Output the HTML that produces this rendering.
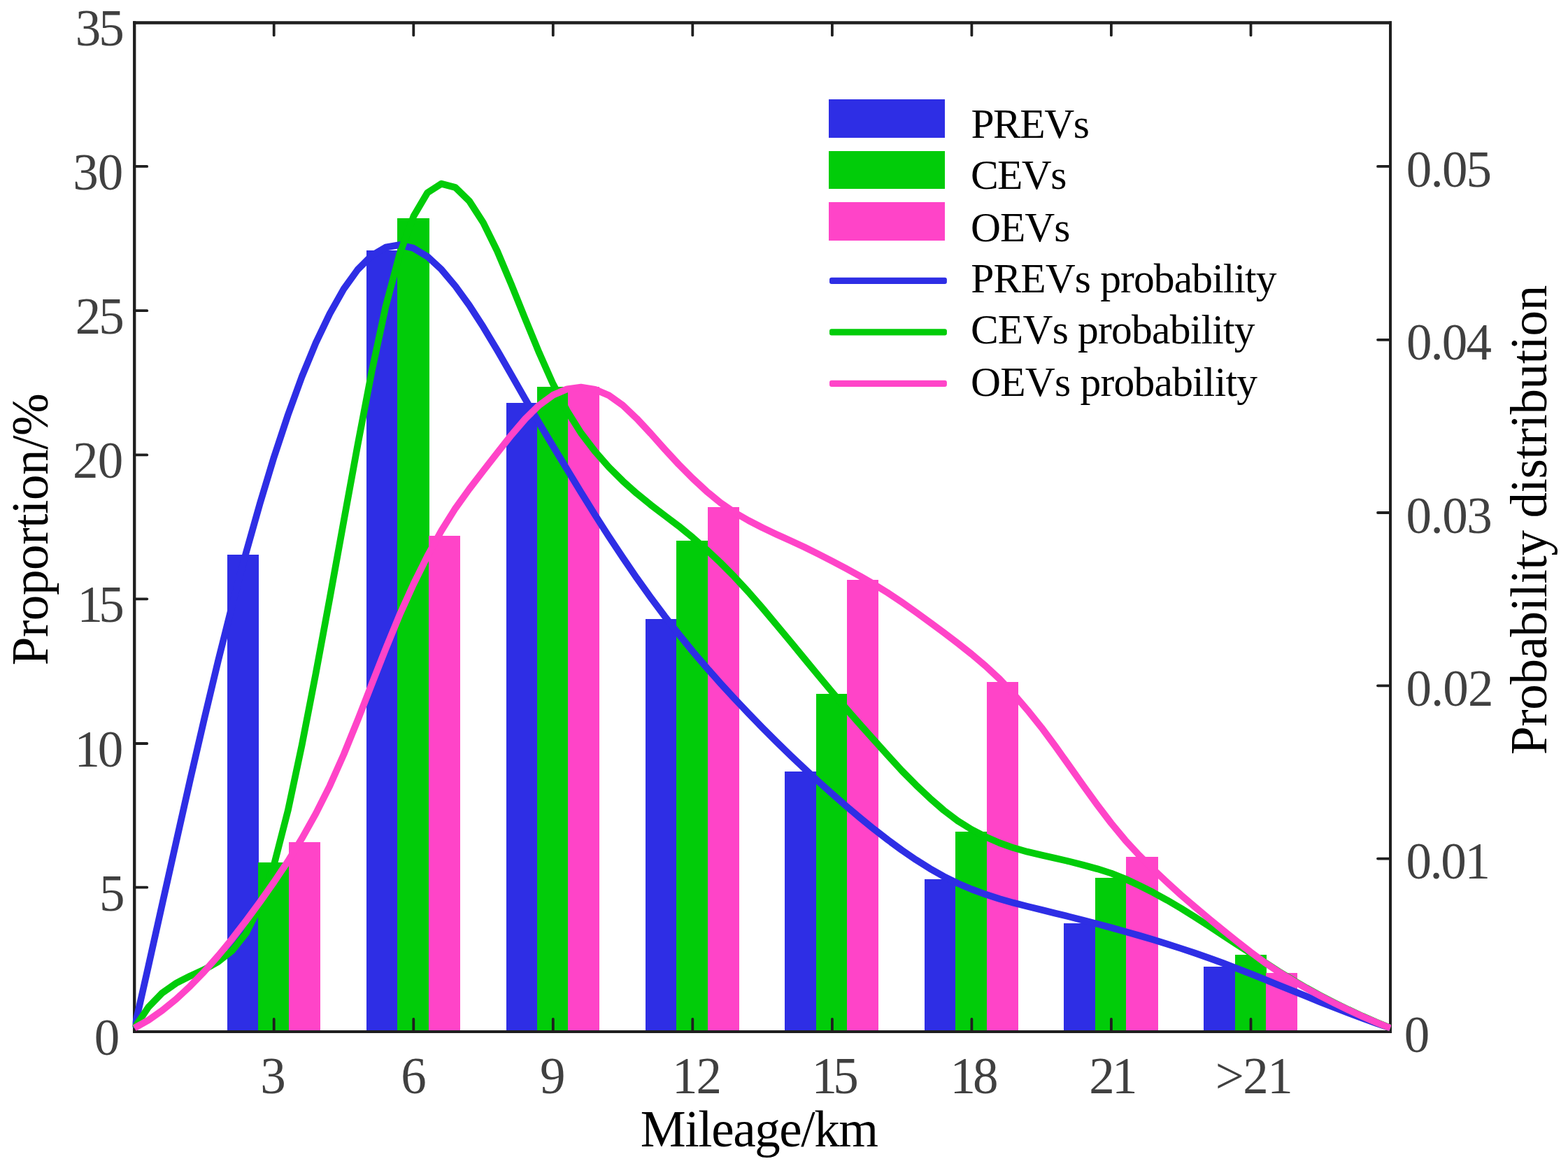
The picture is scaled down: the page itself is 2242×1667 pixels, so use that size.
<!DOCTYPE html>
<html lang="en"><head><meta charset="utf-8"><title>Mileage distribution</title>
<style>
html,body{margin:0;padding:0;background:#fff;}
body{width:2242px;height:1667px;overflow:hidden;}
svg{display:block;}
text{font-family:"Liberation Serif","DejaVu Serif",serif;}
.tk{font-size:73px;fill:#404040;}
.lb{font-size:73px;fill:#000;}
.lg{font-size:59.5px;fill:#000;}
</style></head><body>
<svg xmlns="http://www.w3.org/2000/svg" width="2242" height="1667" viewBox="0 0 2242 1667">
<rect x="0" y="0" width="2242" height="1667" fill="#fff"/>
<g fill="none" stroke="#1f1f1f" stroke-width="4.0" stroke-linecap="square">
<path d="M192.2 32.4 H1988.0"/>
<path d="M192.2 32.4 V1474.9"/>
</g>
<g shape-rendering="crispEdges">
<rect x="325.0" y="793.0" width="45.0" height="681.9" fill="#2E2EE5"/>
<rect x="369.0" y="1233.0" width="45.0" height="241.9" fill="#01CC09"/>
<rect x="413.0" y="1204.0" width="45.0" height="270.9" fill="#FF44C8"/>
<rect x="524.0" y="358.0" width="45.0" height="1116.9" fill="#2E2EE5"/>
<rect x="568.0" y="312.0" width="46.0" height="1162.9" fill="#01CC09"/>
<rect x="613.0" y="766.0" width="45.0" height="708.9" fill="#FF44C8"/>
<rect x="724.0" y="576.0" width="45.0" height="898.9" fill="#2E2EE5"/>
<rect x="768.0" y="553.0" width="45.0" height="921.9" fill="#01CC09"/>
<rect x="812.0" y="553.0" width="45.0" height="921.9" fill="#FF44C8"/>
<rect x="923.0" y="885.0" width="45.0" height="589.9" fill="#2E2EE5"/>
<rect x="967.0" y="773.0" width="46.0" height="701.9" fill="#01CC09"/>
<rect x="1012.0" y="725.0" width="45.0" height="749.9" fill="#FF44C8"/>
<rect x="1122.0" y="1103.0" width="46.0" height="371.9" fill="#2E2EE5"/>
<rect x="1167.0" y="992.0" width="45.0" height="482.9" fill="#01CC09"/>
<rect x="1211.0" y="829.0" width="45.0" height="645.9" fill="#FF44C8"/>
<rect x="1322.0" y="1257.0" width="45.0" height="217.9" fill="#2E2EE5"/>
<rect x="1366.0" y="1189.0" width="46.0" height="285.9" fill="#01CC09"/>
<rect x="1411.0" y="975.0" width="45.0" height="499.9" fill="#FF44C8"/>
<rect x="1521.0" y="1320.0" width="46.0" height="154.9" fill="#2E2EE5"/>
<rect x="1566.0" y="1255.0" width="45.0" height="219.9" fill="#01CC09"/>
<rect x="1610.0" y="1225.0" width="46.0" height="249.9" fill="#FF44C8"/>
<rect x="1721.0" y="1382.0" width="46.0" height="92.9" fill="#2E2EE5"/>
<rect x="1766.0" y="1365.0" width="45.0" height="109.9" fill="#01CC09"/>
<rect x="1810.0" y="1391.0" width="45.0" height="83.9" fill="#FF44C8"/>
</g>
<g fill="none" stroke="#1f1f1f" stroke-width="3.8" stroke-linecap="round">
<path d="M391.7 1474.9 v-18.0"/>
<path d="M391.7 32.4 v18.0"/>
<path d="M591.3 1474.9 v-18.0"/>
<path d="M591.3 32.4 v18.0"/>
<path d="M790.8 1474.9 v-18.0"/>
<path d="M790.8 32.4 v18.0"/>
<path d="M990.3 1474.9 v-18.0"/>
<path d="M990.3 32.4 v18.0"/>
<path d="M1189.9 1474.9 v-18.0"/>
<path d="M1189.9 32.4 v18.0"/>
<path d="M1389.4 1474.9 v-18.0"/>
<path d="M1389.4 32.4 v18.0"/>
<path d="M1588.9 1474.9 v-18.0"/>
<path d="M1588.9 32.4 v18.0"/>
<path d="M1788.5 1474.9 v-18.0"/>
<path d="M1788.5 32.4 v18.0"/>
<path d="M192.2 1268.7 h18.0"/>
<path d="M192.2 1063.0 h18.0"/>
<path d="M192.2 856.3 h18.0"/>
<path d="M192.2 650.4 h18.0"/>
<path d="M192.2 444.2 h18.0"/>
<path d="M192.2 237.9 h18.0"/>
<path d="M1988.0 1227.6 h-18.0"/>
<path d="M1988.0 980.3 h-18.0"/>
<path d="M1988.0 733.0 h-18.0"/>
<path d="M1988.0 485.8 h-18.0"/>
<path d="M1988.0 237.9 h-18.0"/>
</g>
<g fill="none" stroke="#1f1f1f" stroke-width="4.0" stroke-linecap="square">
<path d="M192.2 1474.9 H1988.0"/>
<path d="M1988.0 32.4 V1474.9"/>
<path d="M192.2 32.4 V1474.9"/>
<path d="M192.2 32.4 H1988.0"/>
</g>
<defs><clipPath id="cp"><rect x="189.6" y="32.4" width="1799.4" height="1441.4"/></clipPath></defs>
<g fill="none" stroke-width="9.7" stroke-linejoin="round" stroke-linecap="butt" clip-path="url(#cp)">
<path d="M192.2 1469.7L212.2 1381.3L232.1 1292.0L252.1 1202.7L272.0 1114.4L292.0 1028.1L311.9 944.9L331.9 865.4L351.8 790.2L371.8 719.5L391.7 653.7L411.7 593.4L431.6 538.7L451.6 490.2L471.6 448.3L491.5 413.2L511.4 385.5L531.4 365.5L551.4 353.6L571.3 350.1L591.3 354.8L611.2 366.8L631.2 385.3L651.1 409.0L671.1 436.6L691.0 467.4L711.0 500.7L730.9 535.3L750.9 570.4L770.9 604.7L790.8 638.1L810.8 671.0L830.7 703.8L850.7 736.0L870.6 767.2L890.6 797.3L910.5 826.4L930.5 854.3L950.4 881.0L970.4 906.6L990.3 931.1L1010.3 954.5L1030.2 977.0L1050.2 998.8L1070.2 1019.8L1090.1 1040.3L1110.0 1060.2L1130.0 1079.7L1150.0 1098.6L1169.9 1117.0L1189.9 1134.9L1209.8 1152.3L1229.8 1169.2L1249.7 1185.4L1269.7 1200.9L1289.6 1215.5L1309.6 1229.2L1329.5 1241.7L1349.5 1253.0L1369.5 1262.9L1389.4 1271.4L1409.3 1278.7L1429.3 1285.1L1449.3 1290.8L1469.2 1295.9L1489.2 1300.8L1509.1 1305.7L1529.1 1310.6L1549.0 1315.7L1569.0 1320.9L1588.9 1326.2L1608.9 1331.8L1628.8 1337.5L1648.8 1343.4L1668.8 1349.6L1688.7 1356.0L1708.7 1362.7L1728.6 1369.6L1748.6 1376.9L1768.5 1384.5L1788.5 1392.3L1808.4 1400.3L1828.4 1408.4L1848.3 1416.5L1868.3 1424.6L1888.2 1432.7L1908.2 1440.6L1928.1 1448.3L1948.1 1455.8L1968.0 1462.9L1988.0 1469.7" stroke="#2E2EE5"/>
<path d="M192.2 1469.7L212.2 1439.9L232.1 1419.4L252.1 1405.5L272.0 1395.4L292.0 1386.2L311.9 1375.0L331.9 1359.1L351.8 1334.3L371.8 1294.9L391.7 1236.8L411.7 1158.9L431.6 1065.6L451.6 962.6L471.6 854.9L491.5 745.2L511.4 636.3L531.4 531.9L551.4 438.5L571.3 363.7L591.3 309.3L611.2 275.5L631.2 262.7L651.1 268.0L671.1 287.5L691.0 318.4L711.0 359.0L730.9 406.2L750.9 455.7L770.9 504.3L790.8 549.1L810.8 587.3L830.7 619.0L850.7 645.3L870.6 667.9L890.6 687.8L910.5 705.6L930.5 721.8L950.4 737.0L970.4 752.1L990.3 768.3L1010.3 785.8L1030.2 804.5L1050.2 824.7L1070.2 846.4L1090.1 869.3L1110.0 893.0L1130.0 917.0L1150.0 941.3L1169.9 965.5L1189.9 989.5L1209.8 1013.0L1229.8 1035.8L1249.7 1058.0L1269.7 1080.3L1289.6 1102.0L1309.6 1122.2L1329.5 1141.1L1349.5 1158.5L1369.5 1173.6L1389.4 1186.0L1409.3 1196.4L1429.3 1205.1L1449.3 1212.2L1469.2 1217.8L1489.2 1222.4L1509.1 1226.9L1529.1 1231.6L1549.0 1236.7L1569.0 1242.2L1588.9 1248.5L1608.9 1256.5L1628.8 1265.8L1648.8 1275.9L1668.8 1286.9L1688.7 1298.7L1708.7 1311.2L1728.6 1324.0L1748.6 1337.2L1768.5 1350.2L1788.5 1362.8L1808.4 1375.9L1828.4 1388.8L1848.3 1401.0L1868.3 1412.6L1888.2 1423.4L1908.2 1433.7L1928.1 1443.5L1948.1 1452.8L1968.0 1461.5L1988.0 1469.7" stroke="#01CC09"/>
<path d="M192.2 1469.7L212.2 1458.5L232.1 1444.6L252.1 1428.3L272.0 1409.7L292.0 1389.1L311.9 1366.5L331.9 1342.3L351.8 1316.5L371.8 1289.4L391.7 1261.1L411.7 1231.2L431.6 1198.8L451.6 1163.2L471.6 1123.3L491.5 1078.6L511.4 1029.7L531.4 978.6L551.4 927.7L571.3 879.3L591.3 835.0L611.2 794.8L631.2 758.6L651.1 726.8L671.1 699.0L691.0 673.1L711.0 647.4L730.9 622.3L750.9 599.0L770.9 579.3L790.8 564.8L810.8 556.3L830.7 553.6L850.7 556.7L870.6 565.3L890.6 579.5L910.5 598.4L930.5 619.9L950.4 642.3L970.4 663.9L990.3 683.9L1010.3 702.4L1030.2 718.8L1050.2 732.6L1070.2 744.1L1090.1 754.4L1110.0 763.8L1130.0 772.8L1150.0 782.1L1169.9 792.0L1189.9 802.2L1209.8 812.7L1229.8 823.7L1249.7 835.3L1269.7 847.7L1289.6 861.1L1309.6 875.1L1329.5 889.6L1349.5 904.4L1369.5 919.6L1389.4 935.4L1409.3 952.2L1429.3 970.9L1449.3 992.1L1469.2 1015.3L1489.2 1040.2L1509.1 1067.0L1529.1 1095.1L1549.0 1123.3L1569.0 1150.8L1588.9 1177.0L1608.9 1201.2L1628.8 1222.8L1648.8 1242.7L1668.8 1261.5L1688.7 1279.6L1708.7 1296.8L1728.6 1313.4L1748.6 1329.7L1768.5 1345.7L1788.5 1361.4L1808.4 1376.2L1828.4 1389.5L1848.3 1401.7L1868.3 1413.2L1888.2 1424.0L1908.2 1434.2L1928.1 1443.9L1948.1 1453.1L1968.0 1461.7L1988.0 1469.7" stroke="#FF44C8"/>
</g>
<text class="tk" x="134.86" y="1507.80">0</text>
<text class="tk" x="141.90" y="1301.60">5</text>
<text class="tk" x="106.51" y="1095.90" letter-spacing="-3.36">10</text>
<text class="tk" x="110.62" y="889.20" letter-spacing="-5.89">15</text>
<text class="tk" x="103.97" y="683.30" letter-spacing="-0.78">20</text>
<text class="tk" x="107.63" y="477.10" letter-spacing="-2.90">25</text>
<text class="tk" x="104.33" y="270.80" letter-spacing="-1.06">30</text>
<text class="tk" x="107.72" y="65.30" letter-spacing="-3.08">35</text>
<text class="tk" x="2007.76" y="1503.50">0</text>
<text class="tk" x="2010.40" y="1256.20" letter-spacing="-2.42">0.01</text>
<text class="tk" x="2010.42" y="1008.90" letter-spacing="-0.90">0.02</text>
<text class="tk" x="2010.39" y="761.60" letter-spacing="-1.42">0.03</text>
<text class="tk" x="2010.98" y="514.40" letter-spacing="-1.93">0.04</text>
<text class="tk" x="2010.82" y="266.50" letter-spacing="-1.82">0.05</text>
<text class="tk" x="372.37" y="1563.30">3</text>
<text class="tk" x="573.16" y="1563.30">6</text>
<text class="tk" x="772.01" y="1563.30">9</text>
<text class="tk" x="961.05" y="1563.30" letter-spacing="-2.03">12</text>
<text class="tk" x="1160.55" y="1563.30" letter-spacing="-5.79">15</text>
<text class="tk" x="1358.39" y="1563.30" letter-spacing="-3.94">18</text>
<text class="tk" x="1557.37" y="1563.30" letter-spacing="-3.77">21</text>
<text class="tk" x="1737.65" y="1563.30" letter-spacing="-1.57">&gt;21</text>
<text class="lb" x="915.86" y="1639.00" letter-spacing="-1.39">Mileage/km</text>
<g transform="translate(68.4 949.1) rotate(-90)">
<text class="lb" x="-2.20" y="0.00" letter-spacing="-0.38">Proportion/%</text>
</g>
<g transform="translate(2211.1 1076.8) rotate(-90)">
<text class="lb" x="-2.10" y="0.00" letter-spacing="-0.36">Probability distribution</text>
</g>
<rect x="1184.9" y="142.2" width="166.1" height="54.6" fill="#2E2EE5" shape-rendering="crispEdges"/>
<text class="lg" x="1388.41" y="197.20" letter-spacing="-1.41">PREVs</text>
<rect x="1184.9" y="215.9" width="166.1" height="54.1" fill="#01CC09" shape-rendering="crispEdges"/>
<text class="lg" x="1388.06" y="269.60" letter-spacing="-1.62">CEVs</text>
<rect x="1184.9" y="289.1" width="166.1" height="54.8" fill="#FF44C8" shape-rendering="crispEdges"/>
<text class="lg" x="1388.06" y="344.60" letter-spacing="-1.05">OEVs</text>
<rect x="1186.0" y="396.8" width="167.9" height="9.2" rx="3" ry="3" fill="#2E2EE5"/>
<text class="lg" x="1388.24" y="418.10" letter-spacing="-0.87">PREVs probability</text>
<rect x="1186.0" y="470.2" width="167.9" height="9.2" rx="3" ry="3" fill="#01CC09"/>
<text class="lg" x="1387.98" y="490.50" letter-spacing="-0.78">CEVs probability</text>
<rect x="1186.0" y="543.7" width="167.9" height="9.2" rx="3" ry="3" fill="#FF44C8"/>
<text class="lg" x="1388.06" y="565.50" letter-spacing="-0.77">OEVs probability</text>
</svg>
</body></html>
